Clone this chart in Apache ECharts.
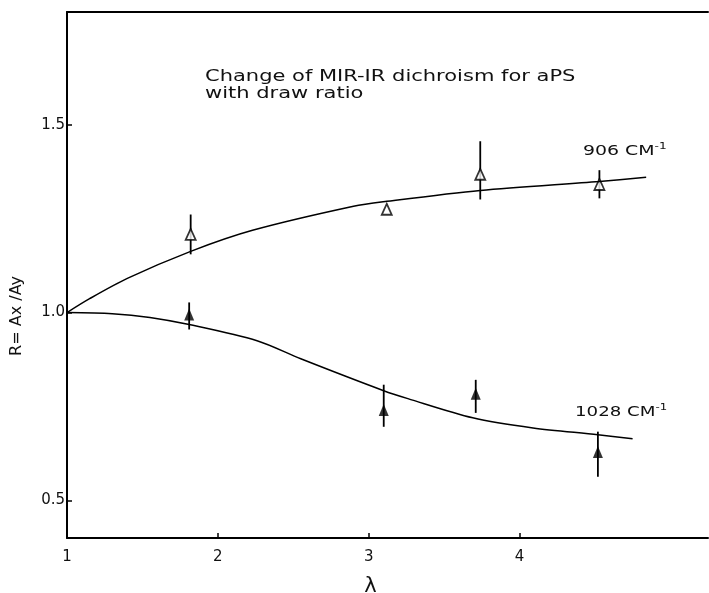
<!DOCTYPE html>
<html style="height: 100%">

<head>
    <meta charset="utf-8">
    <title>Change of MIR-IR dichroism for aPS with draw ratio</title>
    <script type="text/javascript" src="https://cdn.jsdelivr.net/npm/echarts@6/dist/echarts.min.js"></script>
</head>

<body style="height: 100%; margin: 0; background: #fff">
    <div id="container" style="width: 709px; height: 593px"></div>

    <script type="text/javascript">
        // 906 cm-1 band: measured points (open triangles) and error bars
        var lambda906 = [1.82, 3.12, 3.74, 4.53];
        var r906 = [1.208, 1.275, 1.368, 1.341];
        var r906Lo = [1.155, null, 1.301, 1.304];
        var r906Hi = [1.261, null, 1.456, 1.379];

        // 1028 cm-1 band: measured points (filled triangles) and error bars
        var lambda1028 = [1.81, 3.10, 3.71, 4.52];
        var r1028 = [0.995, 0.741, 0.784, 0.629];
        var r1028Lo = [0.955, 0.696, 0.733, 0.563];
        var r1028Hi = [1.027, 0.808, 0.821, 0.683];

        // hand drawn curves through the points
        var fitX906 = [1, 1.15, 1.40, 1.82, 2.23, 2.90, 3.12, 3.74, 4.53, 4.84];
        var fitY906 = [1.0, 1.037, 1.091, 1.163, 1.219, 1.283, 1.296, 1.325, 1.349, 1.36];
        var fitX1028 = [1, 1.3, 1.55, 1.81, 2.26, 2.55, 3.10, 3.26, 3.69, 4.09, 4.52, 4.75];
        var fitY1028 = [1.0, 0.997, 0.987, 0.968, 0.925, 0.877, 0.792, 0.771, 0.72, 0.693, 0.675, 0.664];

        // axis ticks
        var xTicks = [1, 2, 3, 4];
        var yTicks = [0.5, 1.0, 1.5];

        var FONT = 'DejaVu Sans';

        function pairs(xs, ys) {
            var out = [];
            for (var i = 0; i < xs.length; i++) out.push([xs[i], ys[i]]);
            return out;
        }
        function bars(xs, lo, hi) {
            var out = [];
            for (var i = 0; i < xs.length; i++) {
                if (lo[i] != null) out.push([xs[i], lo[i], hi[i]]);
            }
            return out;
        }
        // vertical error bar drawn through the axes
        function renderBar(params, api) {
            var p1 = api.coord([api.value(0), api.value(1)]);
            var p2 = api.coord([api.value(0), api.value(2)]);
            return {
                type: 'line',
                shape: { x1: p1[0], y1: p1[1], x2: p2[0], y2: p2[1] },
                style: { stroke: '#000', lineWidth: 1.8 }
            };
        }

        var myChart = echarts.init(document.getElementById('container'));

        // superscript for the band labels
        var supStyle = { s: { fontFamily: FONT, fontSize: 9, padding: [0, 0, 9, 0] } };

        var option = {
            animation: false,
            backgroundColor: '#fff',
            grid: { left: 67, right: 1, top: 12, bottom: 55, containLabel: false, outerBoundsMode: 'none' },
            xAxis: [{
                type: 'value',
                min: 1,
                max: 5.25,
                name: 'λ',
                nameLocation: 'middle',
                nameGap: 38,
                nameTextStyle: { fontFamily: FONT, fontSize: 21, color: '#111', padding: [0, 34, 0, 0] },
                axisLine: { lineStyle: { color: '#000', width: 2 } },
                axisTick: { inside: true, length: 5, customValues: [2, 3, 4], lineStyle: { color: '#000', width: 1.5 } },
                axisLabel: { customValues: xTicks, margin: 12, fontFamily: FONT, fontSize: 15, color: '#111' },
                splitLine: { show: false }
            }, {
                type: 'value',
                position: 'top',
                min: 1,
                max: 5.25,
                axisLine: { show: true, onZero: false, lineStyle: { color: '#000', width: 2 } },
                axisTick: { show: false },
                axisLabel: { show: false },
                splitLine: { show: false }
            }],
            yAxis: {
                type: 'value',
                min: 0.4,
                max: 1.8,
                axisLine: { show: true, lineStyle: { color: '#000', width: 2 } },
                axisTick: { inside: true, length: 5, customValues: yTicks, lineStyle: { color: '#000', width: 1.5 } },
                axisLabel: {
                    customValues: yTicks, margin: 2, fontFamily: FONT, fontSize: 15, color: '#111',
                    formatter: function (v) { return v.toFixed(1); }
                },
                splitLine: { show: false }
            },
            graphic: [{
                type: 'text', x: 205, y: 69, scaleX: 1.4,
                style: {
                    text: 'Change of MIR-IR dichroism for aPS\nwith draw ratio',
                    fontFamily: FONT, fontSize: 15, lineHeight: 17, fill: '#111'
                }
            }, {
                type: 'text', x: 583, y: 142, scaleX: 1.35,
                style: { text: '906 CM{s|-1}', fontFamily: FONT, fontSize: 14, fill: '#111', rich: supStyle }
            }, {
                type: 'text', x: 575, y: 403, scaleX: 1.3,
                style: { text: '1028 CM{s|-1}', fontFamily: FONT, fontSize: 14, fill: '#111', rich: supStyle }
            }, {
                type: 'text', x: 10, y: 356, rotation: Math.PI / 2, scaleX: 1.07,
                style: { text: 'R= Ax /Ay', fontFamily: FONT, fontSize: 15, fill: '#111' }
            }],
            series: [{
                name: 'fit906',
                type: 'line',
                smooth: 0.3,
                symbol: 'none',
                lineStyle: { color: '#000', width: 1.5 },
                data: pairs(fitX906, fitY906)
            }, {
                name: 'fit1028',
                type: 'line',
                smooth: 0.3,
                symbol: 'none',
                lineStyle: { color: '#000', width: 1.5 },
                data: pairs(fitX1028, fitY1028)
            }, {
                name: 'err906',
                type: 'custom',
                renderItem: renderBar,
                data: bars(lambda906, r906Lo, r906Hi)
            }, {
                name: 'err1028',
                type: 'custom',
                renderItem: renderBar,
                data: bars(lambda1028, r1028Lo, r1028Hi)
            }, {
                name: '906 CM-1',
                type: 'scatter',
                symbol: 'triangle',
                symbolSize: [10, 11],
                itemStyle: { color: '#fff', borderColor: '#000', borderWidth: 1.8 },
                data: pairs(lambda906, r906)
            }, {
                name: '1028 CM-1',
                type: 'scatter',
                symbol: 'triangle',
                symbolSize: [10, 12],
                itemStyle: { color: '#000' },
                data: pairs(lambda1028, r1028)
            }]
        };

        myChart.setOption(option);
    </script>
</body>

</html>
